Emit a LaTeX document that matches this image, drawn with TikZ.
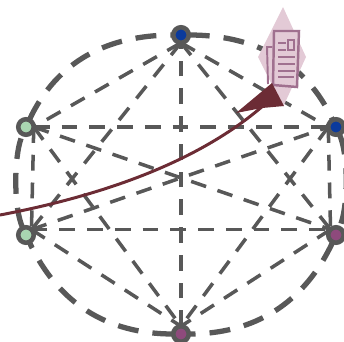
\documentclass[tikz,border=0pt]{standalone}
\definecolor{edgegray}{HTML}{585858}
\definecolor{nodeblue}{HTML}{0B3A9C}
\definecolor{nodegreen}{HTML}{A9D6B1}
\definecolor{nodepurple}{HTML}{8E4A7C}
\definecolor{arrowred}{HTML}{6C2C35}
\definecolor{docback}{HTML}{E3CAD6}
\definecolor{docline}{HTML}{A0708F}
\tikzset{
  peer/.style={draw=edgegray, circle, line width=2.6pt, minimum size=0.31cm, inner sep=0pt, outer sep=0pt},
  link/.style={edgegray, line width=2pt, dash pattern=on 9pt off 6.8pt},
  ring/.style={edgegray, line width=3pt, dash pattern=on 11.9pt off 8pt},
}
\begin{document}
\begin{tikzpicture}[x=0.02cm, y=-0.02cm]
    \useasboundingbox (0, 0) rectangle (344, 341);

    \node[peer, fill=nodeblue] (T) at (181, 35) {};
    \node[peer, fill=nodeblue] (RU) at (336, 127) {};
    \node[peer, fill=nodepurple] (RL) at (336, 235) {};
    \node[peer, fill=nodepurple] (B) at (181, 334) {};
    \node[peer, fill=nodegreen] (LL) at (26, 235) {};
    \node[peer, fill=nodegreen] (LU) at (26, 127) {};

    % Outer ring
    \draw[ring] (T) to[out=0, in=115] (RU);
    \draw[ring] (RU) to[out=-65, in=65, looseness=0.6] (RL);
    \draw[ring] (RL) to[out=-115, in=0] (B);
    \draw[ring] (B) to[out=180, in=-65] (LL);
    \draw[ring] (LL) to[out=115, in=-115, looseness=0.6] (LU);
    \draw[ring] (LU) to[out=65, in=180] (T);

    % Links
    \draw[link] (B.north) -- (T.south);
    \draw[link] (T.south) -- (LU.east);
    \draw[link] (T.south) -- (RU.west);
    \draw[link] (T.south) -- (LL.north east);
    \draw[link] (T.south) -- (RL.north west);
    \draw[link] (LU.east) -- (RU.west);
    \draw[link] (LL.north east) -- (RL.north west);
    \draw[link] (LU.east) -- (RL.north west);
    \draw[link] (LL.north east) -- (RU.west);
    \draw[link] (LU.east) -- (LL.north east);
    \draw[link] (RU.west) -- (RL.north west);
    \draw[link] (LU.east) -- (B.north);
    \draw[link] (LL.north east) -- (B.north);
    \draw[link] (RU.west) -- (B.north);
    \draw[link] (RL.north west) -- (B.north);

    % Document
    \fill[docback] (283, 7) -- (306, 57) -- (283, 107) -- (258, 57) -- cycle;
    \draw[docline, line width=1.1pt] (272, 47) -- (267, 47) -- (268, 84);
    \draw[docline, line width=1.4pt, fill=docback] (274, 31) -- (299, 31) -- (297, 87) -- (273, 85) -- cycle;
    \draw[docline, line width=1pt] (288, 40) rectangle (294, 50);
    \draw[docline, line width=1pt] (278, 43) -- (286, 43);
    \draw[docline, line width=1pt] (278, 50) -- (286, 50);
    \draw[docline, line width=1pt] (278, 57) -- (295, 57);
    \draw[docline, line width=1pt] (278, 64) -- (295, 64);
    \draw[docline, line width=1pt] (278, 71) -- (295, 71);
    \draw[docline, line width=1pt] (278, 77) -- (294, 77);

    % Arrow
    \coordinate (S) at (0, 215);
    \coordinate (E) at (264, 105);
    \draw[arrowred, line width=1.7pt] (S) .. controls (95, 197) and (195, 165) .. (E);
    \fill[arrowred] (272, 83) -- (284, 106) -- (262, 108) -- (236, 113) -- cycle;

\end{tikzpicture}
\end{document}
